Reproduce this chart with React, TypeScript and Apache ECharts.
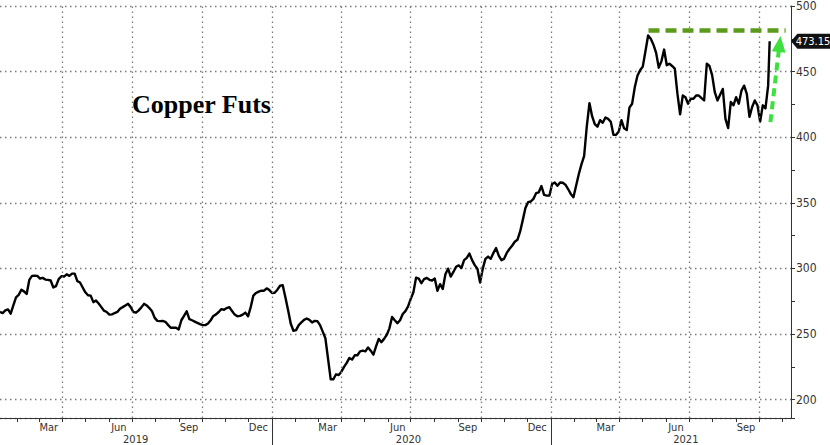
import React, { useEffect, useRef } from 'react';
import * as echarts from 'echarts';

// ---- data ----
const seriesStartYMD = [2019, 1, 9]; // first observation; weekly closes, plus the mid-week readings between them
const weeklyCloses = [
  266.8, 268, 265.5, 278, 283.8, 280.5, 294.3, 294.3, 292.8, 291.3,
  285.5, 291.8, 293.8, 294.3, 296, 289.3, 281.8, 279.3, 275.5, 270.5,
  266.8, 265, 266.8, 270.5, 273, 266.8, 268, 273, 269.8, 262.3,
  259.8, 259.3, 254.8, 254.8, 260.5, 267.3, 260.5, 258.5, 256.8, 258,
  263.8, 266.8, 268.5, 270.5, 264.8, 263.8, 266.3, 270.5, 281.3, 283,
  284.8, 281.3, 283.8, 287.2, 268.3, 252.5, 256.8, 260.8, 260.8, 260,
  256.8, 246.8, 215.5, 219.3, 221.3, 228, 230.5, 233.8, 237.3, 239.8,
  234.3, 246.3, 246.3, 254.3, 260.5, 260.5, 267.5, 276.8, 293, 288.8,
  292.8, 290.8, 283, 284.3, 299.8, 297.3, 302.3, 306.3, 311.3, 302.5,
  289.3, 307.3, 307.3, 315.5, 306.3, 311.8, 317.3, 321.8, 336.8, 350.5,
  353, 358, 356, 355.5, 365.5, 365.5, 363.8, 356.8, 363, 379.3,
  408, 416, 408, 411, 414, 401.8, 404.3, 406.8, 422.5, 438,
  451, 465.5, 475, 464.3, 458, 454.8, 454.3, 433, 431.8, 425.5,
  429.3, 431.8, 428, 454.3, 434.3, 432.3, 414, 426.8, 430.5, 435.5,
  433, 423, 424.3, 424.3, 439.3,
];
const midweekCloses = [
  266, 268.8, 271.8, 279.8, 282.5, 291.3, 294.5, 292.3, 291.5, 290.8,
  286.5, 294, 295.5, 296, 290.3, 285.5, 279.5, 274.3, 273.3, 267.8,
  264.8, 266, 269.3, 271.8, 270.5, 266.3, 270.3, 271.8, 267.3, 260,
  260, 257, 254.8, 253.5, 263.8, 261.3, 259.5, 257.5, 256.8, 260.5,
  265, 269, 269.8, 267.5, 263.5, 264.8, 263.5, 279.3, 282.3, 283,
  283.5, 281.5, 286.8, 278, 258, 253, 258.8, 261.8, 258.8, 259.8,
  251.8, 231, 215.5, 218.8, 225, 231.8, 233.8, 236.8, 236.8, 237.3,
  240.5, 243.8, 249.3, 263, 258.3, 265.3, 271, 281.8, 292.3, 291.8,
  291.3, 292.3, 288, 295.5, 293.8, 301.3, 300.3, 308, 306.3, 299.8,
  299.8, 309, 311.8, 309.8, 307.3, 314.8, 320.3, 328, 346, 351,
  357.3, 362.8, 355.5, 364.3, 363, 365.3, 360.5, 354.3, 371.8, 385.5,
  426, 410, 413, 415, 411.8, 401.8, 413, 405.5, 425.5, 446.8,
  453.8, 477.5, 470.5, 453, 466.8, 456, 452.3, 417.5, 430.5, 429.3,
  431.8, 429.8, 456, 447.3, 428, 436.8, 407, 424.3, 425.5, 439.3,
  415.5, 428, 412, 422,
];
const lastDate = '2021-10-15';
const lastClose = 473.15;

const axisStart = '2019-01-09';
const axisEnd = '2021-11-12';
const yMin = 186;
const yMax = 500;

const monthTickDates = [
  '2019-02-01', '2019-03-01', '2019-04-01', '2019-05-01', '2019-06-01', '2019-07-01',
  '2019-08-01', '2019-09-01', '2019-10-01', '2019-11-01', '2019-12-01', '2020-01-01',
  '2020-02-01', '2020-03-01', '2020-04-01', '2020-05-01', '2020-06-01', '2020-07-01',
  '2020-08-01', '2020-09-01', '2020-10-01', '2020-11-01', '2020-12-01', '2021-01-01',
  '2021-02-01', '2021-03-01', '2021-04-01', '2021-05-01', '2021-06-01', '2021-07-01',
  '2021-08-01', '2021-09-01', '2021-10-01', '2021-11-01',
];
const quarterLineDates = [
  '2019-04-01', '2019-07-01', '2019-10-01', '2020-01-01', '2020-04-01', '2020-07-01',
  '2020-10-01', '2021-01-01', '2021-04-01', '2021-07-01', '2021-10-01',
];
const monthLabelDates = [
  '2019-03-14', '2019-06-14', '2019-09-14', '2019-12-14', '2020-03-14', '2020-06-14',
  '2020-09-14', '2020-12-14', '2021-03-14', '2021-06-14', '2021-09-14',
];
const monthLabelTexts = ['Mar', 'Jun', 'Sep', 'Dec', 'Mar', 'Jun', 'Sep', 'Dec', 'Mar', 'Jun', 'Sep'];
const yearSeparatorDates = ['2020-01-01', '2021-01-01'];
const yearLabelDates = ['2019-07-06', '2020-06-28', '2021-06-27'];
const yearLabelTexts = ['2019', '2020', '2021'];

const peakLineFrom = '2021-05-09';
const peakLineTo = '2021-11-05';
const peakLineValue = 481.5;
const arrowFrom: [string, number] = ['2021-10-16', 411.5];
const arrowTo: [string, number] = ['2021-10-28', 471];

const titleText = 'Copper Futs';

// ---- helpers ----
const DAY = 86400000;
const ts = (s: string) => {
  const [y, m, d] = s.split('-').map(Number);
  return Date.UTC(y, m - 1, d);
};
const labelMap = (dates: string[], texts: string[]) => {
  const m: Record<string, string> = {};
  dates.forEach((s, i) => { m[String(ts(s))] = texts[i]; });
  return m;
};

const NARROW = "'Liberation Sans Narrow','DejaVu Sans Condensed','Arial Narrow',sans-serif";

export default function App() {
  const ref = useRef<HTMLDivElement>(null);
  useEffect(() => {
    if (!ref.current) return;
    const chart = echarts.init(ref.current, undefined, { renderer: 'svg' });

    const [sy, sm, sd] = seriesStartYMD;
    const t0 = Date.UTC(sy, sm - 1, sd);
    const lineData: [number, number][] = [];
    weeklyCloses.forEach((v, i) => {
      lineData.push([t0 + i * 7 * DAY, v]);
      if (i < midweekCloses.length) lineData.push([t0 + (i * 7 + 3.5) * DAY, midweekCloses[i]]);
    });
    lineData.push([ts(lastDate), lastClose]);

    const monthMap = labelMap(monthLabelDates, monthLabelTexts);
    const yearMap = labelMap(yearLabelDates, yearLabelTexts);

    const dotted = { color: '#7a7a7a', width: 1.3, type: [1.5, 3.5] as number[] };
    const xMin = ts(axisStart);
    const xMax = ts(axisEnd);

    const baseX = {
      type: 'value',
      position: 'bottom',
      min: xMin,
      max: xMax,
      gridIndex: 0,
    };

    const lineStyles = [
      { color: '#5c9a1c', width: 4.5, type: [11, 6] },
      { color: '#3ee03e', width: 4, type: [8, 5] },
    ];

    chart.setOption({
      animation: false,
      backgroundColor: '#ffffff',
      title: {
        text: titleText,
        left: 127,
        top: 86,
        textStyle: {
          fontFamily: "'Liberation Serif','DejaVu Serif',serif",
          fontSize: 26,
          fontWeight: 'bold',
          color: '#000',
        },
      },
      grid: { left: 0, right: 39, top: -1, bottom: 27 },
      xAxis: [
        {
          ...baseX,
          axisLine: { show: true, onZero: false, lineStyle: { color: '#333', width: 1 } },
          axisTick: { show: true, length: 4, customValues: monthTickDates.map(ts), lineStyle: { color: '#333' } },
          axisLabel: {
            show: true,
            customValues: monthLabelDates.map(ts),
            margin: 4,
            fontFamily: NARROW,
            fontSize: 11,
            color: '#333',
            formatter: (v: number) => monthMap[String(v)] ?? '',
          },
          splitLine: { show: false },
        },
        {
          ...baseX,
          axisLine: { show: false, onZero: false },
          axisTick: { show: true, length: 28, customValues: yearSeparatorDates.map(ts), lineStyle: { color: '#333' } },
          axisLabel: {
            show: true,
            customValues: yearLabelDates.map(ts),
            margin: 16,
            fontFamily: NARROW,
            fontSize: 11,
            color: '#333',
            formatter: (v: number) => yearMap[String(v)] ?? '',
          },
          splitLine: { show: false },
        },
      ],
      yAxis: {
        type: 'value',
        position: 'right',
        min: yMin,
        max: yMax,
        axisLine: { show: true, lineStyle: { color: '#333', width: 1 } },
        axisTick: { show: true, inside: false, length: 4, lineStyle: { color: '#333' } },
        minorTick: { show: true, splitNumber: 2, length: 4, lineStyle: { color: '#333' } },
        axisLabel: {
          show: true,
          showMinLabel: false,
          margin: 5,
          fontFamily: NARROW,
          fontSize: 12,
          color: '#333',
        },
        splitLine: { show: true, lineStyle: dotted },
      },
      series: [
        {
          // carrier of the quarterly vertical grid lines, drawn beneath the price line
          type: 'line',
          xAxisIndex: 0,
          data: lineData,
          showSymbol: false,
          silent: true,
          lineStyle: { opacity: 0 },
          z: 1,
          markLine: {
            silent: true,
            symbol: ['none', 'none'],
            label: { show: false },
            lineStyle: dotted,
            data: quarterLineDates.map((d) => ({ xAxis: ts(d) })),
          },
        },
        {
          type: 'line',
          xAxisIndex: 0,
          data: lineData,
          showSymbol: false,
          clip: false,
          silent: true,
          lineStyle: { color: '#000', width: 2.4, join: 'round' },
          z: 3,
          markLine: {
            silent: true,
            symbol: ['none', 'none'],
            label: { show: false },
            data: [
              [
                { coord: [ts(peakLineFrom), peakLineValue], lineStyle: lineStyles[0], itemStyle: { color: lineStyles[0].color } },
                { coord: [ts(peakLineTo), peakLineValue], lineStyle: lineStyles[0], itemStyle: { color: lineStyles[0].color } },
              ],
              [
                { coord: [ts(arrowFrom[0]), arrowFrom[1]], symbol: 'none', lineStyle: lineStyles[1], itemStyle: { color: lineStyles[1].color } },
                { coord: [ts(arrowTo[0]), arrowTo[1]], symbol: 'triangle', symbolSize: [14, 16], lineStyle: lineStyles[1], itemStyle: { color: lineStyles[1].color } },
              ],
            ],
          },
          markPoint: {
            silent: true,
            data: [
              {
                coord: [xMax, lastClose],
                symbol: 'path://M0,8L7,0L44,0L44,16L7,16Z',
                symbolSize: [40, 15],
                symbolOffset: [20, 0],
                itemStyle: { color: '#111' },
                label: {
                  show: true,
                  position: 'inside',
                  offset: [2, 0],
                  formatter: lastClose.toFixed(2),
                  color: '#fff',
                  fontFamily: NARROW,
                  fontSize: 11,
                },
              },
            ],
          },
        },
      ],
    });
    return () => chart.dispose();
  }, []);

  return (
    <div
      ref={ref}
      style={{ position: 'absolute', left: 0, top: 0, width: 830, height: 445, background: '#fff' }}
    />
  );
}
